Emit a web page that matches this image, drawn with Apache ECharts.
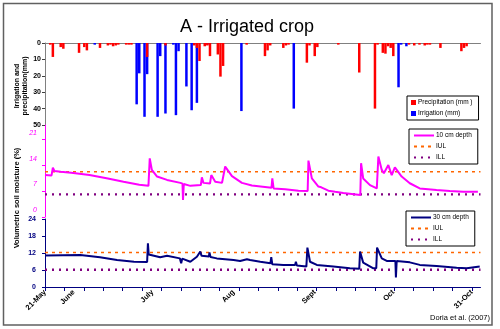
<!DOCTYPE html>
<html><head><meta charset="utf-8">
<script src="https://cdn.jsdelivr.net/npm/echarts@6/dist/echarts.min.js"></script>
<style>html,body{margin:0;padding:0;background:#fff}#c{width:500px;height:329px}</style>
</head><body><div id="c"></div>
<script>
// ---- data ----
const xTickLabels = ['21-May','June','July','Aug','Sept','Oct','31-Oct'];
const xTickLabelDays = [0, 11, 41, 72, 103, 133, 163];
const irrDays = [19,35,36,38,39,43,44,46,49,50,51,54,56,58,62,75,95,135,136,138];
const irrVals = [1,37.4,18.5,45,19,45,8,43,1,44,5,26.5,41,36.5,1,41.5,40,27,1,2];
const precipDays = [2,3,6,7,13,15,16,21,24,25,26,27,28,31,32,33,39,46,57,58,59,61,62,63,66,67,68,77,84,85,86,91,92,93,100,101,103,104,112,120,126,127,129,130,131,132,133,139,141,143,145,146,147,151,159,160,161];
const precipVals = [1,8.5,2.5,3.5,6,2.5,4.5,3,1.5,1,2,1.5,1,1,1,1,8.5,1.5,1.5,3,11,2,1.5,8,7,20.5,14,1,8,4.5,1.5,3,1.5,1,12,1.5,8,2.5,1,18,40,1,6,6.5,2,3,8,1,1.5,1,1.5,1,1,3,5,3,2];
const m10Days = [0,2.5,3,3.6,6,10,17,24,30,36,39.5,40,40.8,42.8,46.6,51.7,52.5,52.7,53,55.5,59.5,59.9,60.5,63,63.5,65,67.6,68.8,71.4,75.2,79,86.5,86.8,87.3,91.7,96.8,100.3,100.6,101.9,104.4,105.5,108.2,110.8,113.9,120.4,120.7,121.5,124.1,126.7,127.3,128.6,129.4,131.1,132.4,133.6,136.2,139.3,143.1,149.5,154.6,159.7,165.3];
const m10Vals = [11.3,11.2,13.3,12.4,12.2,11.9,11.3,10.4,9.5,8.7,8.4,15.8,12.7,10.9,10.0,9.2,9.0,4.6,8.9,8.4,8.6,10.7,9.2,9.0,11.3,9.5,9.2,13.6,11.0,9.2,8.5,7.9,10.4,7.7,7.5,7.1,7.0,15.2,10.4,8.2,8.0,7.1,6.8,6.5,5.9,14.5,10.4,8.6,7.7,16.3,12.7,11.8,14.0,11.3,13.4,10.9,9.1,7.7,7.3,7.0,6.8,6.8];
const m30Days = [0,13.5,21,27.5,34,39,39.3,39.6,40.2,44,46.6,51.5,52,52.4,55.5,58,59.3,59.8,62.6,62.8,63.2,65.6,72,74.5,77.1,78.3,82.2,86.1,86.4,86.8,91,95.5,95.8,96.2,99.8,100.2,101.2,103.8,110.1,116.4,120,120.3,121.5,125.4,126.5,126.8,128.6,130.5,133.8,134,134.3,139.3,143.1,149.5,157.2,161,166];
const m30Vals = [11.1,11.3,10.5,9.5,8.9,8.8,15.4,11.5,11.3,10.5,11.0,10.1,8.4,10.0,8.9,10.7,12.5,11.0,10.8,12.2,10.6,10.1,9.5,9.2,9.8,9.5,8.9,8.4,10.5,8.0,7.8,7.8,8.9,7.6,7.2,13.9,8.9,7.8,7.2,6.6,6.4,12.5,8.6,6.6,6.6,13.9,10.1,9.2,9.2,3.4,9.2,8.7,7.8,7.4,6.8,6.6,7.2];
const IUL = 12.2, ILL = 6.1;
const firstDay = 0, lastDay = 163, axisEndDay = 166.3, nTickSteps = 22;
const topTicks = [0,10,20,30,40,50];
const midTicks = [0,7,14,21];
const botTicks = [0,6,12,18,24];

// ---- build ----
const nDays = Math.floor(axisEndDay) + 1;
const irrFull = [], precipFull = [];
for (let d = 0; d < nDays; d++) { irrFull.push([d, 0]); precipFull.push([d, 0]); }
irrDays.forEach((d, i) => { irrFull[d][1] = irrVals[i]; });
precipDays.forEach((d, i) => { precipFull[d][1] = precipVals[i]; });
const m10 = m10Days.map((d, i) => [d, m10Vals[i]]);
const m30 = m30Days.map((d, i) => [d, m30Vals[i]]);
const xTicks = [];
for (let k = 0; k <= nTickSteps; k++) xTicks.push(firstDay + k * (lastDay - firstDay) / nTickSteps);

const FF = 'Liberation Sans, Arial, sans-serif';
const chart = echarts.init(document.getElementById('c'));
const G = { left: 45, right: 19.5 };
const xBase = { type: 'value', min: 0, max: axisEndDay, splitLine: { show: false } };
const hline = (name, val, color, dash, w, xi) => ({
  name, type: 'line', xAxisIndex: xi, yAxisIndex: xi, symbol: 'none', silent: true,
  data: [[0, val], [axisEndDay, val]],
  lineStyle: { color, type: dash, width: w }, itemStyle: { color }
});
const lineLegend = (data, left, top) => ({
  data, orient: 'vertical', left, top,
  backgroundColor: '#fff', borderColor: '#000', borderWidth: 1, borderRadius: 0, padding: [3, 6, 3, 4],
  itemGap: 4, itemWidth: 20, itemHeight: 5, formatter: n => n.trim(),
  itemStyle: { color: 'rgba(0,0,0,0)', borderWidth: 0, opacity: 0 },
  textStyle: { fontFamily: FF, fontSize: 6.5, color: '#000', padding: [0, 0, 0, -3] }
});
chart.setOption({
  animation: false,
  backgroundColor: '#fff',
  title: { text: 'A - Irrigated crop', left: 242, textAlign: 'center', top: 13,
    textStyle: { fontFamily: FF, fontSize: 18, fontWeight: 'normal', color: '#000' } },
  grid: [
    { ...G, top: 43, height: 82 },
    { ...G, top: 125, height: 92 },
    { ...G, top: 219, height: 68 }
  ],
  xAxis: [
    { ...xBase, gridIndex: 0, position: 'top', axisLine: { lineStyle: { color: '#808080', width: 1 } },
      axisTick: { show: false }, axisLabel: { show: false } },
    { ...xBase, gridIndex: 1, show: false },
    { ...xBase, gridIndex: 2, axisLine: { lineStyle: { color: '#000080', width: 1 } },
      axisTick: { customValues: xTicks, length: 4, lineStyle: { color: '#000080' } },
      axisLabel: { customValues: xTickLabelDays, rotate: 45, margin: 4, fontFamily: FF, fontSize: 7.5, fontWeight: 'bold', color: '#000',
        formatter: v => { const i = xTickLabelDays.indexOf(Math.round(v)); return i >= 0 ? xTickLabels[i] : ''; } } }
  ],
  yAxis: [
    { type: 'value', gridIndex: 0, inverse: true, min: 0, max: 50, interval: 10, splitLine: { show: false },
      axisLine: { show: true, lineStyle: { color: '#808080' } },
      axisTick: { customValues: topTicks, length: 3, lineStyle: { color: '#404040' } },
      axisLabel: { customValues: topTicks, margin: 4, fontFamily: FF, fontSize: 7, fontWeight: 'bold', color: '#000' } },
    { type: 'value', gridIndex: 1, min: 0, max: 24.8, splitLine: { show: false },
      axisLine: { show: true, lineStyle: { color: '#ff00ff' } },
      axisTick: { customValues: midTicks, length: 3, lineStyle: { color: '#ff00ff' } },
      axisLabel: { customValues: midTicks, margin: 8, verticalAlign: 'bottom', padding: [0, 0, 3, 0], fontFamily: FF, fontSize: 7, fontStyle: 'italic', color: '#ff00ff' } },
    { type: 'value', gridIndex: 2, min: 0, max: 24, interval: 6, splitLine: { show: false },
      axisLine: { show: true, lineStyle: { color: '#000080' } },
      axisTick: { customValues: botTicks, length: 3, lineStyle: { color: '#000080' } },
      axisLabel: { customValues: botTicks, margin: 9, fontFamily: FF, fontSize: 7, fontWeight: 'bold', color: '#000080' } }
  ],
  legend: [
    { data: ['Precipitation (mm )', 'Irrigation (mm)'], orient: 'vertical', left: 407, top: 96,
      backgroundColor: '#fff', borderColor: '#000', borderWidth: 1, borderRadius: 0, padding: [3, 6, 3, 4],
      itemGap: 4, itemWidth: 5, itemHeight: 5, icon: 'rect',
      textStyle: { fontFamily: FF, fontSize: 6.5, color: '#000', padding: [0, 0, 0, -3] } },
    lineLegend(['10 cm depth', 'IUL', 'ILL'], 409, 129),
    lineLegend(['30 cm depth', 'IUL ', 'ILL '], 406, 211)
  ],
  series: [
    { name: 'Irrigation (mm)', type: 'bar', stack: 'w', xAxisIndex: 0, yAxisIndex: 0, barWidth: 2.5,
      data: irrFull, itemStyle: { color: '#0000ff' } },
    { name: 'Precipitation (mm )', type: 'bar', stack: 'w', xAxisIndex: 0, yAxisIndex: 0, barWidth: 2.5,
      data: precipFull, itemStyle: { color: '#ff0000' } },
    hline('IUL', IUL, '#ff6600', [3, 4], 1.6, 1),
    hline('ILL', ILL, '#800080', [2, 5], 2.4, 1),
    { name: '10 cm depth', type: 'line', xAxisIndex: 1, yAxisIndex: 1, symbol: 'none', data: m10,
      lineStyle: { color: '#ff00ff', width: 2 }, itemStyle: { color: '#ff00ff' } },
    hline('IUL ', IUL, '#ff6600', [3, 4], 1.6, 2),
    hline('ILL ', ILL, '#800080', [2, 5], 2.4, 2),
    { name: '30 cm depth', type: 'line', xAxisIndex: 2, yAxisIndex: 2, symbol: 'none', data: m30,
      lineStyle: { color: '#000080', width: 2 }, itemStyle: { color: '#000080' } }
  ],
  graphic: [
    { type: 'rect', shape: { x: 3.5, y: 3.5, width: 488.5, height: 321.5 }, style: { fill: 'none', stroke: '#606060', lineWidth: 1.5 }, silent: true },
    { type: 'text', x: 17, y: 86, rotation: Math.PI / 2, style: { text: 'Irrigation and', font: 'bold 7px ' + FF, fill: '#000', align: 'center', verticalAlign: 'middle' } },
    { type: 'text', x: 25, y: 86, rotation: Math.PI / 2, style: { text: 'precipitation(mm)', font: 'bold 7px ' + FF, fill: '#000', align: 'center', verticalAlign: 'middle' } },
    { type: 'text', x: 17, y: 198, rotation: Math.PI / 2, style: { text: 'Volumetric soil moisture (%)', font: 'bold 7.5px ' + FF, fill: '#000', align: 'center', verticalAlign: 'middle' } },
    { type: 'text', x: 490, y: 318, style: { text: 'Doria et al. (2007)', font: '7.5px ' + FF, fill: '#000', align: 'right', verticalAlign: 'middle' } }
  ]
});
</script></body></html>
